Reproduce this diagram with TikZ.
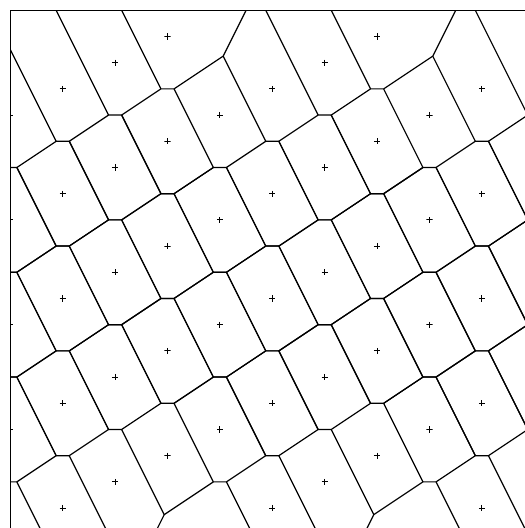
\documentclass[tikz,border=0pt]{standalone}
\usepackage{tikz}

\begin{document}
\begin{tikzpicture}[x=0.5cm, y=-0.5cm,
    vline/.style={line width=0.65pt, line join=round},
    site/.style={inner sep=0pt, minimum size=3.4pt,
      path picture={\draw[line width=0.6pt]
        (path picture bounding box.north) -- (path picture bounding box.south)
        (path picture bounding box.west) -- (path picture bounding box.east);}}]

    \useasboundingbox (-0.393,-0.393) rectangle (19.645,19.76);

    % --- FRAME ---
    \draw[vline] (0,0) rectangle (20,20);

    \begin{scope}
        \clip (0,0) rectangle (20,20);

        % --- SITES on the lattice (2,-1), (0,4); inner cells are regular hexagons ---
        \foreach \X in {0,2,...,20}
            \foreach \Y in {1,...,20} {
                \pgfmathtruncatemacro\r{mod(\X/2+\Y,4)}
                \ifnum\r=0
                    \node[site] (s\X-\Y) at (\X,\Y) {};
                    \ifnum\Y>4 \ifnum\Y<17
                        \draw[vline] (s\X-\Y.center) ++(0.25,2) -- ++(1.5,-1) -- ++(-1.5,-3)
                            -- ++(-0.5,0) -- ++(-1.5,1) -- ++(1.5,3) -- cycle;
                    \fi\fi
                \fi
            }

        % --- TOP ROW (no sites at y=0) ---
        \draw[vline] (-0.75,0) -- (1.75,5);
        \foreach \o in {0,8,16}
            \draw[vline] (\o+1.75,0) -- (\o+3.75,4);
        \foreach \o in {0,8} {
            \draw[vline] (\o+4.25,0) -- (\o+5.75,3);
            \draw[vline] (\o+6.25,3) -- (\o+8.125,1.75) -- (\o+9,0);
            \draw[vline] (\o+8.125,1.75) -- (\o+9.75,5);
        }

        % --- BOTTOM ROW (no sites below y=20) ---
        \foreach \o in {0,8,16} {
            \draw[vline] (\o+2.25,17) -- (\o+4.25,21);
            \draw[vline] (\o+0.25,18) -- (\o+1.75,21);
        }
        \foreach \o in {0,8} {
            \draw[vline] (\o+7.75,18) -- (\o+5.875,19.25) -- (\o+5,21);
            \draw[vline] (\o+5.875,19.25) -- (\o+4.25,16);
        }
    \end{scope}

\end{tikzpicture}
\end{document}
